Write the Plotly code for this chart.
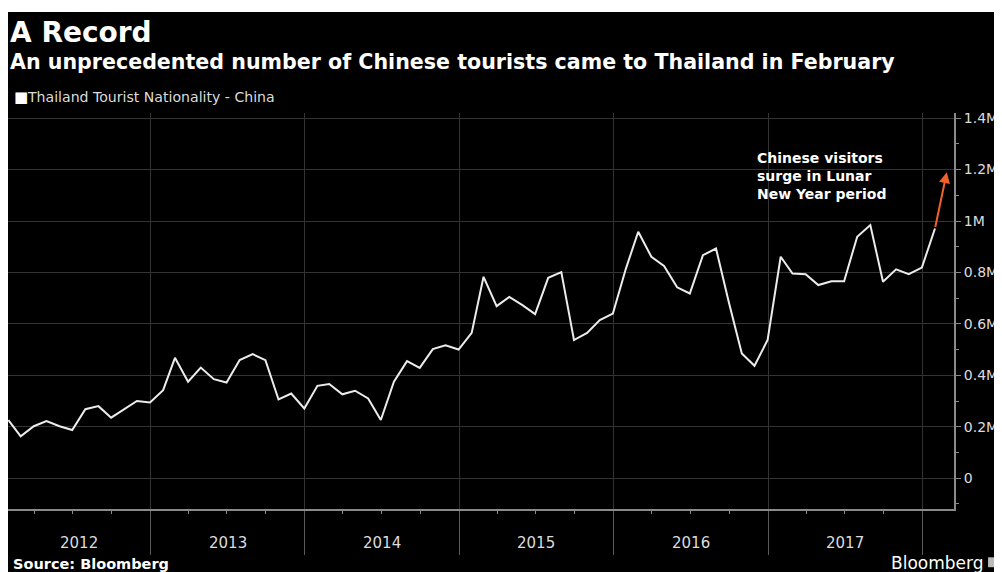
import pandas as pd
import plotly.graph_objects as go

# ---- data (monthly, Jan 2012 - Feb 2018), millions of visitors ----
series_name = "Thailand Tourist Nationality - China"
values_m = [
    0.226, 0.163, 0.202, 0.222, 0.202, 0.187, 0.268, 0.280, 0.235, 0.268, 0.300, 0.294,  # 2012
    0.342, 0.468, 0.375, 0.430, 0.385, 0.372, 0.459, 0.482, 0.459, 0.306, 0.329, 0.271,  # 2013
    0.359, 0.366, 0.326, 0.340, 0.310, 0.226, 0.375, 0.455, 0.429, 0.502, 0.517, 0.500,  # 2014
    0.565, 0.783, 0.669, 0.705, 0.673, 0.638, 0.779, 0.801, 0.537, 0.565, 0.615, 0.640,  # 2015
    0.816, 0.958, 0.861, 0.825, 0.742, 0.718, 0.867, 0.893, 0.686, 0.485, 0.437, 0.537,  # 2016
    0.861, 0.796, 0.793, 0.751, 0.766, 0.766, 0.939, 0.984, 0.764, 0.812, 0.793, 0.819,  # 2017
    0.971, 1.190,                                                                        # 2018
]
values = [v * 1e6 for v in values_m]
months = pd.date_range("2012-01-31", periods=len(values), freq="ME")

year_labels = ["2012", "2013", "2014", "2015", "2016", "2017"]
year_bounds = ["2012-01-01", "2013-01-01", "2014-01-01", "2015-01-01",
               "2016-01-01", "2017-01-01", "2018-01-01"]
x_range = ["2012-01-30", "2018-03-17"]
y_tickvals = [0, 200000, 400000, 600000, 800000, 1000000, 1200000, 1400000]
y_ticktext = ["0", "0.2M", "0.4M", "0.6M", "0.8M", "1M", "1.2M", "1.4M"]

title = "A Record"
subtitle = "An unprecedented number of Chinese tourists came to Thailand in February"
note = "Chinese visitors<br>surge in Lunar<br>New Year period"
source = "Source: Bloomberg"

FONT = "DejaVu Sans"
GRID = "#333333"
AXIS = "#8a8a8a"
TXT = "#dcdcdc"
ORANGE = "#f0622a"

fig = go.Figure()
fig.add_trace(go.Scatter(
    x=months[:-1], y=values[:-1], mode="lines",
    line=dict(color="#ececec", width=2), name=series_name, showlegend=False,
    hoverinfo="skip"))

annotations = []
# orange arrow for the final month
annotations.append(dict(
    x=months[-1], y=values[-1], ax=months[-2], ay=values[-2],
    xref="x", yref="y", axref="x", ayref="y", text="", showarrow=True,
    arrowhead=2, arrowsize=1.1, arrowwidth=2, arrowcolor=ORANGE,
    standoff=0, startstandoff=0))

# year labels centred in the visible part of each year
r0 = pd.Timestamp(x_range[0])
for lab in year_labels:
    start = max(pd.Timestamp(f"{lab}-01-01"), r0)
    end = pd.Timestamp(f"{int(lab) + 1}-01-01")
    mid = start + (end - start) / 2
    annotations.append(dict(
        x=mid.strftime("%Y-%m-%d %H:%M"), y=0, xref="x", yref="paper", text=lab,
        showarrow=False, yanchor="middle", yshift=-34,
        font=dict(family=FONT, size=15, color=TXT)))

annotations += [
    dict(x=0, y=1, xref="paper", yref="paper", xanchor="left", yanchor="middle",
         xshift=0, yshift=81, text=f"<b>{title}</b>", showarrow=False,
         font=dict(family=FONT, size=28, color="#ffffff")),
    dict(x=0, y=1, xref="paper", yref="paper", xanchor="left", yanchor="middle",
         xshift=0, yshift=51, text=f"<b>{subtitle}</b>", showarrow=False,
         font=dict(family=FONT, size=20.6, color="#ffffff")),
    dict(x=0, y=1, xref="paper", yref="paper", xanchor="left", yanchor="middle",
         xshift=4, yshift=16, text="■", showarrow=False,
         font=dict(family=FONT, size=15, color="#ffffff")),
    dict(x=0, y=1, xref="paper", yref="paper", xanchor="left", yanchor="middle",
         xshift=17, yshift=16, text=series_name, showarrow=False,
         font=dict(family=FONT, size=14.1, color=TXT)),
    dict(x=0.7896, y=0.841, xref="paper", yref="paper", xanchor="left",
         yanchor="middle", align="left", text=f"<b>{note}</b>", showarrow=False,
         font=dict(family=FONT, size=14, color="#ffffff")),
    dict(x=0, y=0, xref="paper", yref="paper", xanchor="left", yanchor="middle",
         xshift=3, yshift=-55, text=f"<b>{source}</b>", showarrow=False,
         font=dict(family=FONT, size=14.5, color="#ffffff")),
    dict(x=1.0328, y=0, xref="paper", yref="paper", xanchor="right",
         yanchor="middle", yshift=-54, text="Bloomberg", showarrow=False,
         font=dict(family=FONT, size=17, color="#ffffff")),
]

shapes = [
    # thin white strip along the top edge of the picture
    dict(type="rect", xref="paper", yref="paper", x0=-0.02, x1=1.08,
         y0=1 + 101 / 396, y1=1 + 112 / 396, fillcolor="#ffffff",
         line=dict(width=0), layer="above"),
    # small logo box after "Bloomberg"
    dict(type="rect", xref="paper", yref="paper", x0=1.036, x1=1.047,
         y0=-0.147, y1=-0.122, fillcolor="#bbbbbb",
         line=dict(width=0), layer="above"),
]

fig.update_layout(
    width=994, height=564,
    margin=dict(l=0, r=48, t=105, b=63),
    paper_bgcolor="#000000", plot_bgcolor="#000000",
    showlegend=False,
    font=dict(family=FONT, color=TXT),
    annotations=annotations, shapes=shapes,
    xaxis=dict(
        type="date", range=x_range,
        tickvals=year_bounds, showticklabels=False,
        ticks="outside", ticklen=44, tickcolor="#5a5a5a", tickwidth=1,
        showgrid=True, gridcolor=GRID, gridwidth=1,
        showline=True, linecolor=AXIS, linewidth=2, zeroline=False,
        minor=dict(dtick="M3", tick0="2012-01-01", ticks="outside",
                   ticklen=3, tickcolor=AXIS, showgrid=False),
    ),
    yaxis=dict(
        side="right", range=[-120000, 1420000],
        tickvals=y_tickvals, ticktext=y_ticktext,
        ticks="outside", ticklen=5, tickcolor=AXIS,
        tickfont=dict(family=FONT, size=14, color=TXT),
        showgrid=True, gridcolor=GRID, gridwidth=1,
        showline=True, linecolor=AXIS, linewidth=2, zeroline=False,
        minor=dict(dtick=100000, tick0=0, ticks="outside", ticklen=3,
                   tickcolor=AXIS, showgrid=False),
    ),
)

fig.write_html("out.html")
